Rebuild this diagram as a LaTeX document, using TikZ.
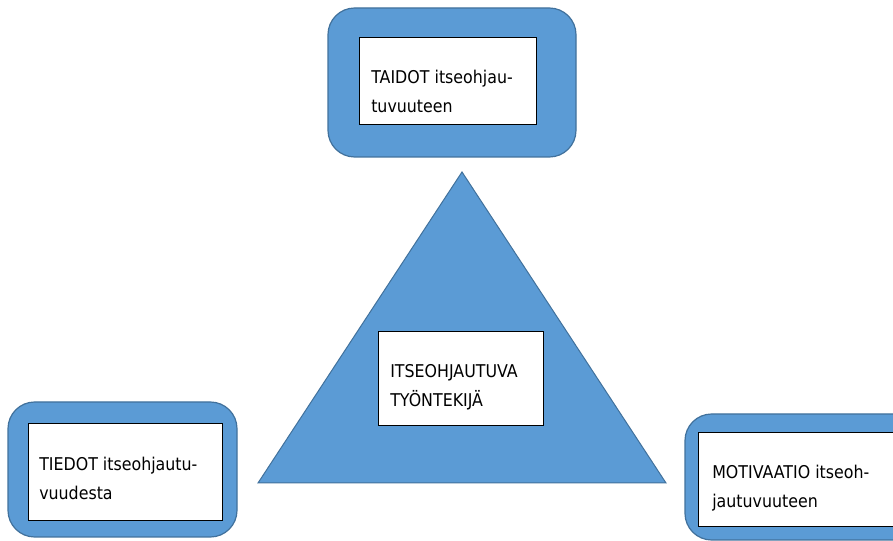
\documentclass[tikz,border=0pt]{standalone}
\usepackage{fontspec}
\setmainfont{DejaVu Sans}[FakeStretch=0.9]
\definecolor{boxblue}{HTML}{5B9BD5}
\definecolor{edgeblue}{HTML}{41719C}
\tikzset{
  outerbox/.style={draw=edgeblue, fill=boxblue, line width=0.9pt, rounded corners=20pt},
  innerbox/.style={draw=black, fill=white, line width=0.75pt},
  label/.style={anchor=base west, inner sep=0pt, align=left,
    font=\fontsize{13.2}{21.75}\selectfont}
}
\begin{document}
\begin{tikzpicture}[x=0.75pt, y=-0.75pt]
            \useasboundingbox (0,0) rectangle (893,541);
            \clip (0,0) rectangle (893,541);

            % triangle in the middle
            \draw[draw=edgeblue, fill=boxblue, line width=0.75pt] (462,172) -- (666,483) -- (258,483) -- cycle;
            \draw[innerbox] (378,332) rectangle (543,426);
            \node[label] (worker) at (390,407) {ITSEOHJAUTUVA\\TYÖNTEKIJÄ};

            % skills (top)
            \draw[outerbox] (328,8) rectangle (576,157);
            \draw[innerbox] (359,38) rectangle (536,125);
            \node[label] (skills) at (371,113) {TAIDOT itseohjau-\\tuvuuteen};

            % knowledge (left)
            \draw[outerbox] (8,402) rectangle (237,537);
            \draw[innerbox] (28,424) rectangle (222,521);
            \node[label] (knowledge) at (39,500) {TIEDOT itseohjautu-\\vuudesta};

            % motivation (right)
            \draw[outerbox] (685,414) rectangle (920,540);
            \draw[innerbox] (698,433) rectangle (905,527);
            \node[label] (motivation) at (712,508) {MOTIVAATIO itseoh-\\jautuvuuteen};
        \end{tikzpicture}
\end{document}
